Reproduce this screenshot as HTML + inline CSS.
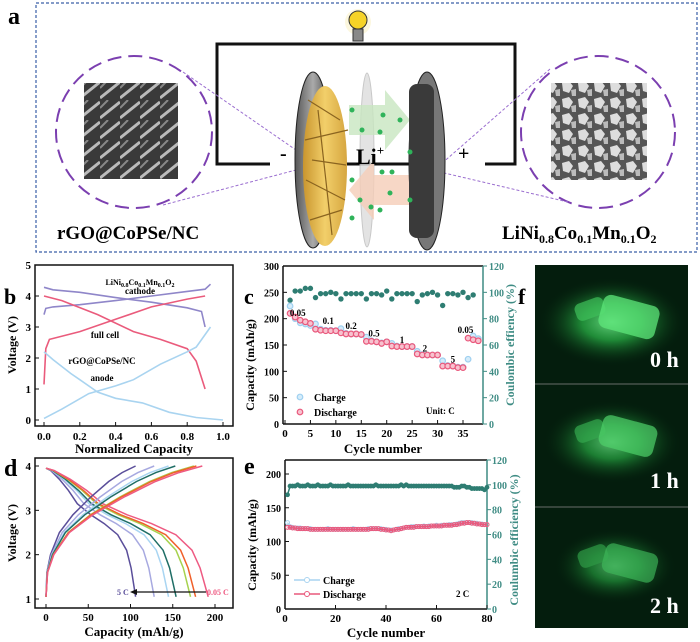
<!DOCTYPE html>
<html><head><meta charset="utf-8"><style>
html,body{margin:0;padding:0;background:#fff;}
svg{display:block;font-family:"Liberation Serif",serif;font-weight:bold;}
</style></head><body>
<svg id="fig" width="700" height="642" viewBox="0 0 700 642" xmlns="http://www.w3.org/2000/svg">
<defs>
<radialGradient id="glow" cx="50%" cy="50%" r="50%"><stop offset="0" stop-color="#7dff9a"/><stop offset="0.4" stop-color="#2fc94f" stop-opacity="0.8"/><stop offset="1" stop-color="#02180a" stop-opacity="0"/></radialGradient>
<linearGradient id="gold" x1="0" x2="1"><stop offset="0" stop-color="#c9952e"/><stop offset="0.5" stop-color="#f2cf6a"/><stop offset="1" stop-color="#d6a640"/></linearGradient>
<linearGradient id="disk" x1="0" x2="1"><stop offset="0" stop-color="#555"/><stop offset="0.5" stop-color="#aaa"/><stop offset="1" stop-color="#444"/></linearGradient>
<pattern id="sem1" width="20" height="20" patternUnits="userSpaceOnUse"><rect width="20" height="20" fill="#3a3a3a"/><path d="M0 18 L20 2" stroke="#bbb" stroke-width="3"/><path d="M0 8 L8 0" stroke="#888" stroke-width="2"/></pattern>
<pattern id="sem2" width="16" height="16" patternUnits="userSpaceOnUse"><rect width="16" height="16" fill="#555"/><polygon points="2,3 9,1 13,6 9,13 3,11" fill="#ddd"/><polygon points="11,10 16,9 16,16 12,16" fill="#bbb"/></pattern>
</defs>

<g>
<rect x="36" y="3" width="661" height="249" fill="none" stroke="#3a5fa8" stroke-width="1.2" stroke-dasharray="3,2"/>
<text x="8" y="24" font-size="24">a</text>
<rect x="217" y="44" width="298" height="120" fill="none" stroke="#111" stroke-width="3"/>
<g><circle cx="358" cy="22" r="13" fill="#fbf3d0" opacity="0.7"/><circle cx="358" cy="20" r="9" fill="#f6d327" stroke="#333" stroke-width="1"/><rect x="353" y="29" width="10" height="12" fill="#888" stroke="#333" stroke-width="1"/></g>
<rect x="270" y="150" width="30" height="30" fill="#fff"/><rect x="445" y="150" width="40" height="30" fill="#fff"/>
<ellipse cx="134" cy="132" rx="78" ry="76" fill="none" stroke="#7b3fb0" stroke-width="2" stroke-dasharray="14,7"/>
<ellipse cx="598" cy="132" rx="77" ry="76" fill="none" stroke="#7b3fb0" stroke-width="2" stroke-dasharray="14,7"/>
<rect x="84" y="83" width="94" height="96" fill="url(#sem1)"/>
<rect x="551" y="83" width="96" height="97" fill="url(#sem2)"/>
<g stroke="#9b6fd0" stroke-width="1" stroke-dasharray="3,2"><line x1="183" y1="72" x2="296" y2="150"/><line x1="163" y1="205" x2="296" y2="170"/><line x1="550" y1="69" x2="440" y2="165"/><line x1="568" y1="202" x2="440" y2="172"/></g>
<ellipse cx="313" cy="160" rx="18" ry="88" fill="url(#disk)" stroke="#222"/>
<ellipse cx="325" cy="166" rx="22" ry="80" fill="url(#gold)"/>
<g stroke="#8a6420" stroke-width="1.2"><line x1="308" y1="100" x2="340" y2="120"/><line x1="305" y1="140" x2="348" y2="130"/><line x1="306" y1="180" x2="345" y2="200"/><line x1="310" y1="220" x2="342" y2="210"/><line x1="312" y1="160" x2="346" y2="165"/><line x1="318" y1="110" x2="332" y2="235"/></g>
<ellipse cx="367" cy="160" rx="7" ry="87" fill="#ddd" stroke="#bbb" opacity="0.8"/>
<polygon points="349,105 385,105 385,90 410,120 385,150 385,135 349,135" fill="#c8e6c0" opacity="0.8"/>
<polygon points="410,175 374,175 374,160 349,190 374,220 374,205 410,205" fill="#f5cdb8" opacity="0.8"/>
<ellipse cx="427" cy="161" rx="18" ry="89" fill="#777" stroke="#222"/>
<rect x="409" y="84" width="25" height="154" rx="8" fill="#3a3a3a"/>
<g fill="#2fb35a"><circle cx="352" cy="110" r="2.5"/><circle cx="383" cy="115" r="2.5"/><circle cx="362" cy="130" r="2.5"/><circle cx="400" cy="120" r="2.5"/><circle cx="380" cy="132" r="2.5"/><circle cx="410" cy="152" r="2.5"/><circle cx="352" cy="180" r="2.5"/><circle cx="382" cy="172" r="2.5"/><circle cx="392" cy="172" r="2.5"/><circle cx="360" cy="200" r="2.5"/><circle cx="390" cy="193" r="2.5"/><circle cx="410" cy="200" r="2.5"/><circle cx="371" cy="207" r="2.5"/><circle cx="380" cy="210" r="2.5"/><circle cx="352" cy="218" r="2.5"/></g>
<text x="356" y="164" font-size="22" font-weight="bold">Li<tspan font-size="13" dy="-9">+</tspan></text>
<text x="280" y="160" font-size="20">-</text>
<text x="458" y="160" font-size="20">+</text>
<text x="57" y="239" font-size="19">rGO@CoPSe/NC</text>
<text x="502" y="239" font-size="19">LiNi<tspan font-size="12" dy="4">0.8</tspan><tspan dy="-4">Co</tspan><tspan font-size="12" dy="4">0.1</tspan><tspan dy="-4">Mn</tspan><tspan font-size="12" dy="4">0.1</tspan><tspan dy="-4">O</tspan><tspan font-size="12" dy="4">2</tspan></text>
</g>

<text x="4" y="304" font-size="22">b</text>
<text x="244" y="304" font-size="22">c</text>
<text x="518" y="304" font-size="22">f</text>
<text x="4" y="476" font-size="24">d</text>
<text x="244" y="474" font-size="24">e</text>

<g>
<rect x="535" y="265" width="153" height="363" fill="#041d0d"/>
<g><ellipse cx="612" cy="322" rx="75" ry="45" fill="url(#glow)" opacity="0.8"/><rect x="575" y="300" width="30" height="18" rx="6" fill="#3fbf5a" opacity="0.7" transform="rotate(-20 590 309)"/><rect x="600" y="300" width="58" height="34" rx="8" fill="#5ee57a" opacity="0.75" transform="rotate(15 629 317)"/><text x="650" y="367" font-size="22" fill="#fff">0 h</text></g>
<line x1="535" y1="384" x2="688" y2="384" stroke="#888" stroke-width="0.8"/>
<g><ellipse cx="612" cy="442" rx="70" ry="42" fill="url(#glow)" opacity="0.7"/><rect x="575" y="422" width="30" height="18" rx="6" fill="#35a84e" opacity="0.7" transform="rotate(-20 590 431)"/><rect x="600" y="420" width="56" height="32" rx="8" fill="#4ed06a" opacity="0.7" transform="rotate(15 628 436)"/><text x="650" y="488" font-size="22" fill="#fff">1 h</text></g>
<line x1="535" y1="507" x2="688" y2="507" stroke="#888" stroke-width="0.8"/>
<g><ellipse cx="615" cy="566" rx="62" ry="38" fill="url(#glow)" opacity="0.6"/><rect x="578" y="547" width="30" height="18" rx="6" fill="#2f9a46" opacity="0.7" transform="rotate(-20 593 556)"/><rect x="603" y="548" width="54" height="30" rx="8" fill="#3fb85a" opacity="0.65" transform="rotate(15 630 563)"/><text x="650" y="613" font-size="22" fill="#fff">2 h</text></g>
</g>

<g id="plots"></g>
</svg>
<script>
// ---------- Panel b data ----------
const bXTicks=[0,0.2,0.4,0.6,0.8,1.0];
const bYTicks=[0,1,2,3,4,5];
const bCathodeCh=[[0,3.4],[0.01,3.6],[0.05,3.65],[0.2,3.72],[0.4,3.85],[0.6,4.0],[0.8,4.15],[0.9,4.22],[0.93,4.38]];
const bCathodeDis=[[0,4.28],[0.05,4.2],[0.2,4.12],[0.4,3.95],[0.6,3.8],[0.8,3.62],[0.88,3.5],[0.9,3.0]];
const bFullCh=[[0,1.15],[0.01,2.3],[0.03,2.6],[0.2,2.85],[0.4,3.25],[0.6,3.65],[0.8,3.9],[0.9,4.0]];
const bFullDis=[[0,4.0],[0.1,3.85],[0.3,3.4],[0.5,2.85],[0.65,2.6],[0.8,2.3],[0.85,1.9],[0.9,1.0]];
const bAnodeA=[[0,0.05],[0.1,0.35],[0.25,0.85],[0.4,1.1],[0.5,1.3],[0.65,1.8],[0.8,2.2],[0.85,2.35],[0.93,3.0]];
const bAnodeB=[[0,2.2],[0.05,1.95],[0.15,1.5],[0.2,1.3],[0.3,0.9],[0.4,0.7],[0.55,0.55],[0.7,0.25],[0.85,0.08],[1.0,0.0]];
// ---------- Panel c data ----------
const cYTicks=[0,50,100,150,200,250,300];
const cY2Ticks=[0,20,40,60,80,100,120];
const cXTicks=[0,5,10,15,20,25,30,35];
const cCharge=[224,200,192,190,187,190,180,178,178,177,181,172,171,171,170,165,158,156,154,156,153,148,147,147,147,138,132,131,131,131,120,111,110,108,108,123,167,162];
const cDischarge=[210,203,197,194,191,180,178,177,177,177,173,171,171,171,170,157,157,156,153,156,148,147,147,147,147,133,131,131,131,131,110,110,110,107,107,163,160,158];
const cCE=[94,101,101,103,103,96,99,99,100,99,95,99,99,99,99,95,99,99,98,101,95,99,99,99,99,93,98,99,100,98,90,99,99,98,100,96,98];
const cRateLabels=[["0.05",2.5,205],["0.1",8.5,190],["0.2",13,180],["0.5",17.5,166],["1",23,154],["2",27.5,138],["5",33,117],["0.05",35.5,173]];
// ---------- Panel d data ----------
const dXTicks=[0,50,100,150,200];
const dYTicks=[1,2,3,4];
const dDisCap=[106,128,145,154,171,177,192];
const dChCap=[106,128,145,153,175,178,185];
const dColors=["#5a4e9a","#a7a9e0","#a9d5f2","#1f6e66","#a6d24e","#f0602a","#ee5a82"];
const dDisShapeF=[0,0.05,0.15,0.25,0.35,0.5,0.65,0.8,0.9,0.95,1];
const dDisShapeV=[3.95,3.9,3.7,3.45,3.15,2.9,2.7,2.45,2.1,1.7,1.05];
const dChShapeF=[0,0.01,0.05,0.15,0.3,0.5,0.7,0.85,1];
const dChShapeV=[1.05,1.6,2.0,2.5,2.9,3.3,3.65,3.85,4.0];
// ---------- Panel e data ----------
const eXTicks=[0,20,40,60,80];
const eYTicks=[0,50,100,150,200];
const eY2Ticks=[0,20,40,60,80,100,120];
const eDischarge=[121,121,120,120,119,119,119,119,119,118,118,118,118,118,118,118,118,118,118,118,118,118,118,118,118,118,118,118,118,118,118,118,118,119,119,119,119,118,118,117,117,116,117,118,118,119,120,121,121,121,121,122,122,122,122,122,122,123,123,123,123,123,124,124,124,124,125,125,126,127,127,128,128,127,127,126,126,125,125,125];
const eCharge=[128,122,121,120,120,120,119,119,119,119,118,118,118,118,118,118,119,118,118,118,118,118,118,118,118,118,119,118,118,118,118,118,119,119,119,119,119,119,118,118,117,117,117,118,119,119,120,121,121,122,122,122,122,122,123,122,123,123,123,124,123,124,124,124,125,125,125,126,127,128,128,128,128,128,127,127,126,126,125,125];
const eCE=[92,99,99,99,100,99,99,99,100,99,99,99,100,99,99,99,99,100,99,99,99,99,99,99,100,99,99,99,99,99,99,99,99,99,99,100,99,99,99,99,99,99,99,99,99,100,99,100,99,99,99,99,99,99,99,99,99,99,99,99,99,99,99,99,99,99,98,98,98,99,99,98,98,97,97,97,97,97,96,98];

const NS="http://www.w3.org/2000/svg";
const root=document.getElementById('plots');
function mk(tag,attrs,parent){const e=document.createElementNS(NS,tag);for(const k in attrs)e.setAttribute(k,attrs[k]);(parent||root).appendChild(e);return e;}
function txt(s,x,y,size,opts,parent){const t=mk('text',Object.assign({x:x,y:y,'font-size':size},opts||{}),parent);t.textContent=s;return t;}
function lin(d0,d1,r0,r1){return v=>r0+(v-d0)*(r1-r0)/(d1-d0);}
function frame(g,x0,y0,x1,y1){mk('rect',{x:x0,y:y0,width:x1-x0,height:y1-y0,fill:'none',stroke:'#111','stroke-width':1.5},g);}
function pathFrom(pts,X,Y){return pts.map((p,i)=>(i?'L':'M')+X(p[0]).toFixed(1)+' '+Y(p[1]).toFixed(1)).join(' ');}

(function(){
const g=mk('g',{});


const X=lin(0,1,44,223),Y=lin(0,5,420,265);
frame(g,35,265,233,426);
bXTicks.forEach(v=>{mk('line',{x1:X(v),y1:426,x2:X(v),y2:422,stroke:'#111'},g);const t=txt(v.toFixed(1),X(v),440,11,{'text-anchor':'middle'},g);});
bYTicks.forEach(v=>{mk('line',{x1:35,y1:Y(v),x2:39,y2:Y(v),stroke:'#111'},g);const t=txt(String(v),31,Y(v)+4,11,{'text-anchor':'end'},g);});
const series=[[bCathodeCh,'#8f86c9','cathode-charge'],[bCathodeDis,'#8f86c9','cathode-discharge'],[bFullCh,'#ea5b7c','full-cell-charge'],[bFullDis,'#ea5b7c','full-cell-discharge'],[bAnodeA,'#a9d4f0','anode-lithiation'],[bAnodeB,'#a9d4f0','anode-delithiation']];
series.forEach(s=>{const p=mk('path',{d:pathFrom(s[0],X,Y),fill:'none',stroke:s[1],'stroke-width':1.6},g);});
const l1=txt('',140,285,8,{'text-anchor':'middle'},g);l1.innerHTML='LiNi<tspan font-size="6" dy="2">0.8</tspan><tspan dy="-2">Co</tspan><tspan font-size="6" dy="2">0.1</tspan><tspan dy="-2">Mn</tspan><tspan font-size="6" dy="2">0.1</tspan><tspan dy="-2">O</tspan><tspan font-size="6" dy="2">2</tspan>';

txt('cathode',140,294,9,{'text-anchor':'middle'},g);
txt('full cell',105,338,9,{'text-anchor':'middle'},g);
txt('rGO@CoPSe/NC',102,364,9,{'text-anchor':'middle'},g);
txt('anode',102,381,9,{'text-anchor':'middle'},g);
const yt=txt('Voltage (V)',0,0,12,{transform:'translate(16 345) rotate(-90)','text-anchor':'middle'},g);
const xt=txt('Normalized Capacity',134,453,13,{'text-anchor':'middle'},g);
})();

(function(){
const g=mk('g',{});


const X=lin(0,35,285,463),Y=lin(0,300,424,266),Y2=lin(0,120,424,266);
mk('line',{x1:283,y1:266,x2:283,y2:424,stroke:'#111','stroke-width':1.5},g);
mk('line',{x1:283,y1:424,x2:483,y2:424,stroke:'#111','stroke-width':1.5},g);
mk('line',{x1:283,y1:266,x2:483,y2:266,stroke:'#111','stroke-width':1.5},g);
mk('line',{x1:483,y1:266,x2:483,y2:424,stroke:'#3f8c84','stroke-width':1.5},g);
cXTicks.forEach(v=>{mk('line',{x1:X(v),y1:424,x2:X(v),y2:420,stroke:'#111'},g);const t=txt(String(v),X(v),437,11,{'text-anchor':'middle'},g);});
cYTicks.forEach(v=>{mk('line',{x1:283,y1:Y(v),x2:287,y2:Y(v),stroke:'#111'},g);const t=txt(String(v),279,Y(v)+4,10,{'text-anchor':'end'},g);});
cY2Ticks.forEach(v=>{mk('line',{x1:483,y1:Y2(v),x2:487,y2:Y2(v),stroke:'#3f8c84'},g);const t=txt(String(v),489,Y2(v)+4,10,{fill:'#3f8c84'},g);});
cCE.forEach((v,i)=>{const c=mk('circle',{cx:X(i+1),cy:Y2(v),r:2.7,fill:'#2e7d72'},g);});
cCharge.forEach((v,i)=>{const c=mk('circle',{cx:X(i+1),cy:Y(v),r:2.8,fill:'#d4ecfa',stroke:'#9fd0f0','stroke-width':1.2},g);});
cDischarge.forEach((v,i)=>{const c=mk('circle',{cx:X(i+1),cy:Y(v),r:2.8,fill:'#f7c2cf',stroke:'#e9587c','stroke-width':1.2},g);});
cRateLabels.forEach(l=>{const t=txt(l[0],X(l[1]),Y(l[2]),9,{'text-anchor':'middle'},g);});
mk('circle',{cx:300,cy:397,r:2.8,fill:'#d4ecfa',stroke:'#9fd0f0','stroke-width':1.2},g);
mk('circle',{cx:300,cy:412,r:2.8,fill:'#f7c2cf',stroke:'#e9587c','stroke-width':1.2},g);
const lc=txt('Charge',314,401,10,{},g);
const ld=txt('Discharge',314,416,10,{},g);
txt('Unit: C',426,414,9,{},g);
const yt=txt('Capacity (mAh/g)',0,0,12,{transform:'translate(254 365) rotate(-90)','text-anchor':'middle'},g);
const y2=txt('Coulombic effiency (%)',0,0,12,{transform:'translate(514 345) rotate(-90)','text-anchor':'middle',fill:'#3f8c84'},g);
const xt=txt('Cycle number',383,453,13,{'text-anchor':'middle'},g);
})();

(function(){
const g=mk('g',{});


const X=lin(0,200,46,215),Y=lin(1,4,599,466);
frame(g,35,458,233,608);
dXTicks.forEach(v=>{mk('line',{x1:X(v),y1:608,x2:X(v),y2:604,stroke:'#111'},g);const t=txt(String(v),X(v),621,11,{'text-anchor':'middle'},g);});
dYTicks.forEach(v=>{mk('line',{x1:35,y1:Y(v),x2:39,y2:Y(v),stroke:'#111'},g);const t=txt(String(v),31,Y(v)+4,11,{'text-anchor':'end'},g);});
dDisCap.forEach((cap,i)=>{const pts=dDisShapeF.map((f,j)=>[f*cap,dDisShapeV[j]]);const p=mk('path',{d:pathFrom(pts,X,Y),fill:'none',stroke:dColors[i],'stroke-width':1.5},g);});
dChCap.forEach((cap,i)=>{const pts=dChShapeF.map((f,j)=>[f*cap,dChShapeV[j]]);const p=mk('path',{d:pathFrom(pts,X,Y),fill:'none',stroke:dColors[i],'stroke-width':1.5},g);});
mk('line',{x1:206,y1:592,x2:135,y2:592,stroke:'#111','stroke-width':1.3},g);
mk('polygon',{points:'130,592 137,589 137,595',fill:'#111'},g);
txt('5 C',117,595,8,{fill:'#5a4e9a'},g);
txt('0.05 C',207,595,8,{fill:'#ee5a82'},g);
const yt=txt('Voltage (V)',0,0,12,{transform:'translate(16 533) rotate(-90)','text-anchor':'middle'},g);
const xt=txt('Capacity (mAh/g)',134,636,13,{'text-anchor':'middle'},g);
})();

(function(){
const g=mk('g',{});


const X=lin(0,80,285,487),Y=lin(0,200,609,474),Y2=lin(0,120,609,460);
mk('line',{x1:285,y1:460,x2:285,y2:609,stroke:'#111','stroke-width':1.5},g);
mk('line',{x1:285,y1:609,x2:487,y2:609,stroke:'#111','stroke-width':1.5},g);
mk('line',{x1:285,y1:460,x2:487,y2:460,stroke:'#111','stroke-width':1.5},g);
mk('line',{x1:487,y1:460,x2:487,y2:609,stroke:'#3f8c84','stroke-width':1.5},g);
eXTicks.forEach(v=>{mk('line',{x1:X(v),y1:609,x2:X(v),y2:605,stroke:'#111'},g);const t=txt(String(v),X(v),622,11,{'text-anchor':'middle'},g);});
eYTicks.forEach(v=>{mk('line',{x1:285,y1:Y(v),x2:289,y2:Y(v),stroke:'#111'},g);const t=txt(String(v),281,Y(v)+4,10,{'text-anchor':'end'},g);});
eY2Ticks.forEach(v=>{mk('line',{x1:487,y1:Y2(v),x2:491,y2:Y2(v),stroke:'#3f8c84'},g);const t=txt(String(v),492,Y2(v)+4,10,{fill:'#3f8c84'},g);});
const ceLine=mk('path',{d:pathFrom(eCE.map((v,i)=>[i+1,v]),X,Y2),fill:'none',stroke:'#2e7d72','stroke-width':1.5},g);


eCE.forEach((v,i)=>{const c=mk('circle',{cx:X(i+1),cy:Y2(v),r:2.4,fill:'#2e7d72'},g);});
const chL=mk('path',{d:pathFrom(eCharge.map((v,i)=>[i+1,v]),X,Y),fill:'none',stroke:'#a9d4f0','stroke-width':1.2},g);


eCharge.forEach((v,i)=>{const c=mk('circle',{cx:X(i+1),cy:Y(v),r:2,fill:'none',stroke:'#a9d4f0','stroke-width':1},g);});
const dL=mk('path',{d:pathFrom(eDischarge.map((v,i)=>[i+1,v]),X,Y),fill:'none',stroke:'#e9587c','stroke-width':1.2},g);


eDischarge.forEach((v,i)=>{const c=mk('circle',{cx:X(i+1),cy:Y(v),r:2,fill:'none',stroke:'#e9587c','stroke-width':1},g);});
mk('line',{x1:294,y1:580,x2:320,y2:580,stroke:'#a9d4f0','stroke-width':1.5},g);
mk('circle',{cx:307,cy:580,r:2.5,fill:'#fff',stroke:'#a9d4f0'},g);
mk('line',{x1:294,y1:594,x2:320,y2:594,stroke:'#e9587c','stroke-width':1.5},g);
mk('circle',{cx:307,cy:594,r:2.5,fill:'#fff',stroke:'#e9587c'},g);
const lc=txt('Charge',323,584,10,{},g);
const ld=txt('Discharge',323,598,10,{},g);
txt('2 C',456,597,9,{},g);
const yt=txt('Capacity (mAh/g)',0,0,12,{transform:'translate(256 545) rotate(-90)','text-anchor':'middle'},g);
const y2=txt('Coulumbic efficiency (%)',0,0,12,{transform:'translate(518 540) rotate(-90)','text-anchor':'middle',fill:'#3f8c84'},g);
const xt=txt('Cycle number',386,637,13,{'text-anchor':'middle'},g);
})();
</script>
</body></html>
